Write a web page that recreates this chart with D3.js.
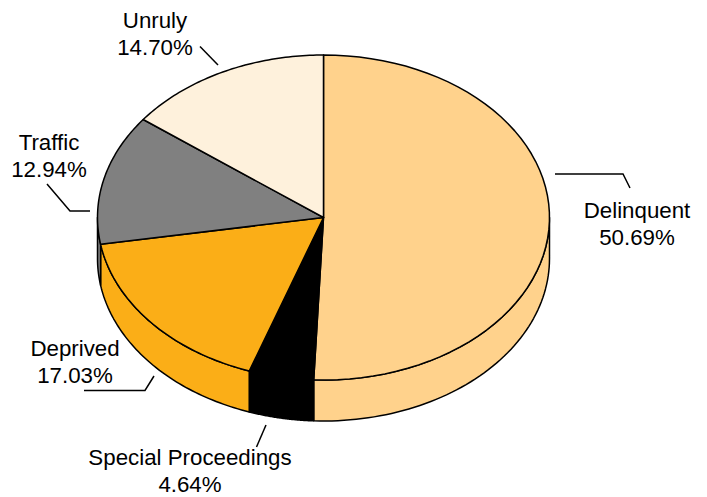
<!DOCTYPE html>
<html><head><meta charset="utf-8">
<script src="https://cdn.jsdelivr.net/npm/d3@7"></script>
<style>html,body{margin:0;padding:0;background:#fff}svg{display:block}text{font-family:"Liberation Sans",Arial,sans-serif;font-size:22.3px;fill:#000}</style>
</head><body><svg id="c" width="707" height="497"></svg>
<script>
const categories=["Delinquent","Special Proceedings","Deprived","Traffic","Unruly"];
const shares=[50.69,4.64,17.03,12.94,14.70];
const colors=["#FFD28C","#000000","#FBAE17","#808080","#FEF1DC"];
const labelLines=[
 [[555,174],[623,174],[630,188]],
 [[266,425],[256.5,447]],
 [[84,390.5],[145,390.5],[154,376]],
 [[47,184],[70,211],[90,211]],
 [[200,46.5],[218,65]]];
const labelPos=[[637,218],[190,465],[75,356],[49,150],[155,28]];
const cx=323.5,cy=217.5,rx=226,ry=162.5,depth=41;
const svg=d3.select("#c");
const pieGen=d3.pie().sort(null).value(d=>d).startAngle(0).endAngle(2*Math.PI);
const arcs=pieGen(shares);
const px=a=>cx+rx*Math.sin(a), py=a=>cy-ry*Math.cos(a);
function arcPath(a0,a1,dy=0){const pts=d3.range(0,61).map(i=>{const a=a0+(a1-a0)*i/60;return [px(a),py(a)+dy];});return pts;}
const line=d3.line();
// side walls (front half only: angles pi/2..3pi/2)
arcs.forEach((d,i)=>{
 const a0=Math.max(d.startAngle,Math.PI/2),a1=Math.min(d.endAngle,3*Math.PI/2);
 if(a1<=a0)return;
 const top=arcPath(a0,a1),bot=arcPath(a0,a1,depth).reverse();
 svg.append("path").attr("d",line(top.concat(bot))+"Z").attr("fill",colors[i]).attr("stroke","#000").attr("stroke-width",1.5).attr("stroke-linejoin","round");
});
// top faces
arcs.forEach((d,i)=>{
 const pts=[[cx,cy]].concat(arcPath(d.startAngle,d.endAngle));
 svg.append("path").attr("d",line(pts)+"Z").attr("fill",colors[i]).attr("stroke","#000").attr("stroke-width",1.5).attr("stroke-linejoin","round");
});
labelLines.forEach(l=>svg.append("path").attr("d",line(l)).attr("fill","none").attr("stroke","#000").attr("stroke-width",1.5));
categories.forEach((c,i)=>{
 const t=svg.append("text").attr("text-anchor","middle").attr("x",labelPos[i][0]).attr("y",labelPos[i][1]);
 t.append("tspan").attr("x",labelPos[i][0]).text(c);
 t.append("tspan").attr("x",labelPos[i][0]).attr("dy",27).text(shares[i].toFixed(2)+"%");
});
</script></body></html>
